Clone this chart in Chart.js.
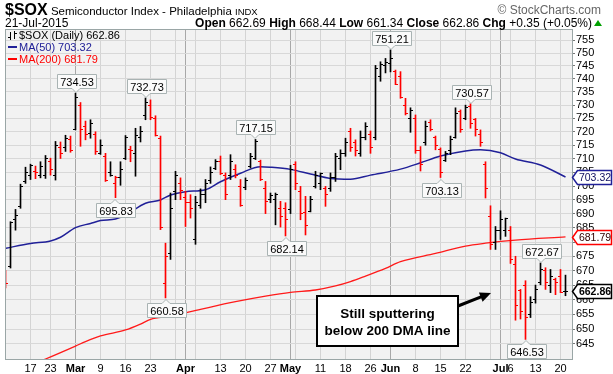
<!DOCTYPE html>
<html>
<head>
<meta charset="utf-8">
<title>$SOX Semiconductor Index</title>
<script src="https://cdn.jsdelivr.net/npm/chart.js@4.4.1/dist/chart.umd.min.js"></script>
<style>
  html, body { margin: 0; padding: 0; background: #fff; }
  #wrap { position: relative; width: 613px; height: 374px; overflow: hidden; font-family: "Liberation Sans", Arial, sans-serif; color: #000; }
  #chart { position: absolute; left: 0; top: 0; }
  .hd { position: absolute; white-space: nowrap; }
</style>
</head>
<body>
<div id="wrap">
  <canvas id="chart" width="613" height="374"></canvas>
  <div class="hd" style="left:5px;top:1px;font-size:11.5px;line-height:17px"><b style="font-size:16px">$SOX</b> Semiconductor Index - Philadelphia <span style="font-size:9.5px">INDX</span></div>
  <div class="hd" style="right:12px;top:4px;font-size:12px;line-height:12px;color:#666">&copy; StockCharts.com</div>
  <div class="hd" id="date" style="left:5px;top:17px;font-size:12px;line-height:12px"></div>
  <div class="hd" id="quote" style="right:21px;top:17px;font-size:12px;line-height:12px"></div>
  <div class="hd" style="right:11px;top:20px;width:0;height:0;border-left:4px solid transparent;border-right:4px solid transparent;border-bottom:6px solid #00a000"></div>
</div>
<script>
// trading days Feb 9 - Jul 21 2015
const holidays = ['2015-02-16', '2015-04-03', '2015-05-25', '2015-07-03'];
const dates = [];
for (let d = new Date(Date.UTC(2015, 1, 9)); d <= new Date(Date.UTC(2015, 6, 21)); d.setUTCDate(d.getUTCDate() + 1)) {
  const iso = d.toISOString().slice(0, 10);
  const wd = d.getUTCDay();
  if (wd !== 0 && wd !== 6 && !holidays.includes(iso)) dates.push(iso);
}

const opens = [668, 671.5, 688, 692.5, 701.5, 704, 705.5, 704, 704, 709,
  704, 714, 714, 717, 721, 730, 722, 719.5, 719, 712,
  711, 705, 701, 703, 710, 713.5, 712, 718, 726, 730,
  725, 717.5, 665.5, 676, 698, 701, 696, 694, 681, 693,
  697, 702, 706.5, 709, 704, 704, 706, 700, 699.5, 707,
  710, 709, 699, 695, 695, 692, 692, 691.5, 708, 698,
  690.5, 691, 700, 701, 699, 699, 703, 710, 712, 720,
  716, 712, 718, 719, 718, 741, 745, 746, 743, 741,
  730, 725, 725, 713, 716, 723.5, 718, 713.5, 709.5, 713,
  718, 727.5, 725, 729.5, 724.5, 719, 708, 689, 680, 684,
  684, 684, 672, 663, 665, 655, 660, 666, 670, 665,
  667, 668, 662.69];
const highs = [670, 687.2, 691.6, 700.7, 706.9, 708.0, 707.3, 708.9, 711.2, 710.2,
  716.4, 716.2, 718.7, 718.4, 734.53, 731, 724, 724.5, 720, 717,
  712, 708.9, 703.6, 708.9, 718.6, 714.6, 721.3, 722.0, 732.73, 732.0,
  726.0, 718.4, 679.6, 697.5, 705.4, 703.0, 698.1, 696.9, 696.3, 699,
  702.4, 707.0, 709.7, 711, 704.8, 711.5, 707.8, 702.4, 703.0, 712.0,
  717.15, 709.5, 701.7, 697.5, 697.5, 694.5, 694.0, 707.6, 708.9, 699.9,
  696.3, 696.3, 705.4, 704.8, 699.9, 704.8, 712.0, 713.3, 717.6, 721.3,
  717, 720.3, 723.4, 720.3, 745.2, 746.6, 747.9, 751.21, 743.4, 742.8,
  732.6, 729.0, 726.3, 714.5, 724, 724.5, 718.4, 714, 712.7, 718.4,
  729.0, 728.2, 730.0, 730.57, 725.0, 720.7, 708.9, 692.9, 685.5, 691.1,
  688.5, 685.5, 675, 663.5, 666.5, 661.0, 665.0, 672.67, 671.0, 670.4,
  667.4, 670.4, 668.44];
const lows = [664, 670.9, 684.2, 692.0, 701.0, 702.4, 702.7, 703.0, 702.8, 704.0,
  702.2, 710.1, 712.7, 712.4, 720.7, 714.6, 717, 717.6, 711.6, 711.6,
  701.7, 703.6, 695.83, 700.3, 709.7, 708.9, 703.6, 716.2, 724.5, 724.5,
  718.4, 684.4, 660.58, 673.9, 695.1, 695.1, 685.5, 688.5, 679.2, 692,
  694.0, 701.0, 706.0, 704.2, 695.1, 702.4, 703, 692.7, 698.7, 706.6,
  709.7, 702.0, 690.1, 694, 686.1, 685.3, 682.14, 690.1, 698.7, 687.9,
  682.5, 690.7, 699.3, 698.7, 692.7, 698.1, 701.7, 706.0, 710.9, 712.7,
  711, 710.9, 717.0, 712.0, 717.0, 739.1, 742.3, 742.7, 737.8, 732.6,
  726.3, 719.8, 712, 705.5, 715, 720.3, 713.3, 703.13, 709, 711.5,
  717.6, 719.8, 724.5, 721.3, 718.4, 714.6, 695.7, 677.4, 677.4, 680.9,
  682, 672.5, 653, 653.4, 646.53, 653.9, 658.8, 665.1, 663.5, 662.4,
  661.7, 662.4, 661.34];
const closes = [665.7, 687, 689.5, 700, 705, 707.5, 705, 707, 710, 706,
  715, 712, 717.5, 713, 733, 721, 719, 723, 712.5, 715,
  702, 704, 703, 706, 718, 713, 718.5, 720, 731, 725.5,
  718.5, 685, 675, 692, 704, 698.5, 694, 692, 694, 697,
  701, 705, 709, 704.5, 697, 709, 704, 693, 702, 711,
  716.5, 702.5, 694.5, 696.5, 697, 689, 688, 706, 701, 690,
  686, 695, 704, 704.5, 697, 703, 711, 712, 716, 714,
  713, 718, 722, 714, 744, 745.5, 746.5, 748, 738, 733,
  727, 728, 713, 708, 722, 721, 715, 705, 712, 717,
  727, 721, 729, 723, 721, 716, 699, 679, 684, 688,
  688.2, 674, 658, 656, 654, 659, 663.5, 670.5, 666, 668,
  666, 662.51, 662.86];

// moving averages read at a few days (trading-day index)
const ma50Days = [0, 5, 9, 11, 14, 17, 19, 22, 24, 28, 31, 33, 36, 40, 43, 47, 51, 53, 57, 61, 65, 69, 73, 79, 83, 87, 92, 95, 99, 102, 107, 112];
const ma50 = [677.8, 679.5, 680.4, 681.7, 685.1, 686.6, 687.6, 688.2, 689.6, 693.8, 695.0, 696.8, 698.0, 698.7, 701.6, 704.7, 707.1, 706.9, 706.1, 704.4, 702.8, 702.5, 704.0, 706.2, 708.5, 711.0, 712.9, 713.3, 712.2, 709.9, 707.7, 703.32];
const ma200Days = [0, 8, 14, 16, 19, 24, 27, 29, 33, 39, 46, 52, 57, 62, 66, 69, 72, 76, 79, 86, 92, 96, 102, 112];
const ma200 = [634.7, 640.0, 644.3, 645.8, 647.7, 649.7, 651.7, 653.3, 654.4, 656.7, 659.3, 661.2, 662.5, 663.3, 664.7, 666.2, 668.1, 670.8, 673.1, 676.0, 678.6, 679.6, 680.7, 681.79];

const yTicks = [645, 650, 655, 660, 665, 670, 675, 680, 685, 690, 695, 700, 705, 710, 715, 720, 725, 730, 735, 740, 745, 750, 755];
const gridDates = ['2015-02-17', '2015-02-23', '2015-03-02', '2015-03-09', '2015-03-16', '2015-03-23', '2015-03-30', '2015-04-01', '2015-04-06', '2015-04-13', '2015-04-20', '2015-04-27', '2015-05-01', '2015-05-04', '2015-05-11', '2015-05-18', '2015-05-26', '2015-06-01', '2015-06-08', '2015-06-15', '2015-06-22', '2015-06-29', '2015-07-01', '2015-07-06', '2015-07-13', '2015-07-20'];
const gridNames = ['17', '23', 'Mar', '9', '16', '23', '', 'Apr', '', '13', '20', '27', 'May', '', '11', '18', '26', 'Jun', '8', '15', '22', '', 'Jul', '6', '13', '20'];
const months = ['Mar', 'Apr', 'May', 'Jun', 'Jul'];

const noteDates = ['2015-03-02', '2015-03-12', '2015-03-20', '2015-03-26', '2015-04-22', '2015-04-30', '2015-06-01', '2015-06-15', '2015-06-23', '2015-07-09', '2015-07-14'];
const noteSide = ['high', 'low', 'high', 'low', 'high', 'low', 'high', 'low', 'high', 'low', 'high'];

const FONT = '"Liberation Sans", Arial, sans-serif';
const RED = '#ff0000', BLACK = '#000000', NAVY = '#202098';
const last = closes.length - 1;

// header text
const monNames = ['Jan', 'Feb', 'Mar', 'Apr', 'May', 'Jun', 'Jul', 'Aug', 'Sep', 'Oct', 'Nov', 'Dec'];
const lastDate = dates[last].split('-');
document.getElementById('date').textContent = lastDate[2] + '-' + monNames[+lastDate[1] - 1] + '-' + lastDate[0];
const chg = closes[last] - closes[last - 1];
document.getElementById('quote').innerHTML =
  '<b>Open</b> ' + opens[last].toFixed(2) + ' <b>High</b> ' + highs[last].toFixed(2) +
  ' <b>Low</b> ' + lows[last].toFixed(2) + ' <b>Close</b> ' + closes[last].toFixed(2) +
  ' <b>Chg</b> +' + chg.toFixed(2) + ' (+' + (chg / closes[last - 1] * 100).toFixed(2) + '%)';

function barColor(k) {
  const ref = k > 0 ? closes[k - 1] : opens[k];
  return closes[k] < ref ? RED : BLACK;
}
function tickMark(color, left) {
  const c = document.createElement('canvas');
  c.width = 5; c.height = 1;
  const g = c.getContext('2d');
  g.fillStyle = color;
  g.fillRect(left ? 0 : 3, 0, 2, 1);
  return c;
}
const openMarks = { [RED]: tickMark(RED, true), [BLACK]: tickMark(BLACK, true) };
const closeMarks = { [RED]: tickMark(RED, false), [BLACK]: tickMark(BLACK, false) };

const days = closes.map((_, k) => k);
const gridKs = gridDates.map(d => dates.indexOf(d));

function bubble(ctx, cx, tipY, text, above) {
  ctx.font = '11px ' + FONT;
  const w = Math.ceil(ctx.measureText(text).width) + 5, h = 14;
  const x0 = Math.round(cx - w / 2) + 0.5;
  let y0, y1;
  if (above) { y1 = Math.round(tipY - 5) + 0.5; y0 = y1 - h; }
  else { y0 = Math.round(tipY + 5) + 0.5; y1 = y0 + h; }
  ctx.beginPath();
  ctx.moveTo(x0, y0);
  if (!above) { ctx.lineTo(cx - 4, y0); ctx.lineTo(cx, y0 - 4); ctx.lineTo(cx + 4, y0); }
  ctx.lineTo(x0 + w, y0);
  ctx.lineTo(x0 + w, y1);
  if (above) { ctx.lineTo(cx + 4, y1); ctx.lineTo(cx, y1 + 4); ctx.lineTo(cx - 4, y1); }
  ctx.lineTo(x0, y1);
  ctx.closePath();
  ctx.fillStyle = '#fafafa'; ctx.fill();
  ctx.strokeStyle = '#a9b3b3'; ctx.lineWidth = 1; ctx.stroke();
  ctx.fillStyle = '#000'; ctx.textAlign = 'center'; ctx.textBaseline = 'middle';
  ctx.fillText(text, x0 + w / 2, (y0 + y1) / 2 + 1);
}

function tag(ctx, x, y, text, color, textColor, bold) {
  ctx.font = (bold ? 'bold ' : '') + '10.5px ' + FONT;
  const h = 14, tip = 5;
  y = Math.round(y) + 0.5;
  const x1 = 611.5;
  ctx.beginPath();
  ctx.moveTo(x, y);
  ctx.lineTo(x + tip, y - h / 2); ctx.lineTo(x1, y - h / 2);
  ctx.lineTo(x1, y + h / 2); ctx.lineTo(x + tip, y + h / 2);
  ctx.closePath();
  ctx.fillStyle = '#fff'; ctx.fill();
  ctx.strokeStyle = color; ctx.lineWidth = 1.5; ctx.stroke();
  ctx.fillStyle = textColor; ctx.textAlign = 'center'; ctx.textBaseline = 'middle';
  ctx.fillText(text, (x + tip + x1) / 2 + 0.5, y + 1);
}

const callout = { lines: ['Still sputtering', 'below 200 DMA line'], box: [317, 296, 458, 346], from: [458, 306], to: [491, 293] };

const decor = {
  id: 'decor',
  beforeDraw(chart) {
    const { ctx, chartArea: a } = chart;
    ctx.save();
    ctx.fillStyle = '#f2f2f2';
    ctx.fillRect(a.left, a.top, a.right - a.left, a.bottom - a.top);
    ctx.restore();
  },
  afterDatasetsDraw(chart) {
    const { ctx, chartArea: a } = chart;
    ctx.save();
    ctx.strokeStyle = '#9aa6a6'; ctx.lineWidth = 1;
    ctx.strokeRect(a.left - 0.5, a.top - 0.5, a.right - a.left + 1, a.bottom - a.top + 1);
    ctx.restore();
  },
  afterDraw(chart) {
    const { ctx, chartArea: a } = chart;
    const xs = chart.scales.x, ys = chart.scales.y;
    ctx.save();
    // legend inside plot
    ctx.font = '11px ' + FONT;
    ctx.textAlign = 'left'; ctx.textBaseline = 'alphabetic';
    ctx.fillStyle = '#000';
    ctx.fillRect(10, 32, 1, 8); ctx.fillRect(8, 37, 2, 1);
    ctx.fillRect(14, 31, 1, 8); ctx.fillRect(15, 33, 2, 1);
    ctx.fillText('$SOX (Daily) ' + closes[last].toFixed(2), 19, 39);
    ctx.fillStyle = NAVY; ctx.fillRect(8, 46, 9, 2);
    ctx.fillText('MA(50) ' + ma50[ma50.length - 1].toFixed(2), 19, 51);
    ctx.fillStyle = RED; ctx.fillRect(8, 58, 9, 2);
    ctx.fillText('MA(200) ' + ma200[ma200.length - 1].toFixed(2), 19, 63);

    // high / low notes
    noteDates.forEach((d, j) => {
      const k = dates.indexOf(d);
      const high = noteSide[j] === 'high';
      const v = high ? highs[k] : lows[k];
      bubble(ctx, Math.round(xs.getPixelForValue(k)), ys.getPixelForValue(v), v.toFixed(2), high);
    });

    // right-hand value tags
    tag(ctx, a.right + 0.5, ys.getPixelForValue(ma50[ma50.length - 1]), ma50[ma50.length - 1].toFixed(2), NAVY, '#101060', false);
    tag(ctx, a.right + 0.5, ys.getPixelForValue(ma200[ma200.length - 1]), ma200[ma200.length - 1].toFixed(2), RED, '#300000', false);
    tag(ctx, a.right + 0.5, ys.getPixelForValue(closes[last]), closes[last].toFixed(2), '#000', '#000', true);

    // callout
    const [bx0, by0, bx1, by1] = callout.box;
    ctx.fillStyle = '#fff';
    ctx.fillRect(bx0, by0, bx1 - bx0, by1 - by0);
    ctx.strokeStyle = '#000'; ctx.lineWidth = 2;
    ctx.strokeRect(bx0, by0, bx1 - bx0, by1 - by0);
    ctx.fillStyle = '#000';
    ctx.font = 'bold 13.5px ' + FONT;
    ctx.textAlign = 'center'; ctx.textBaseline = 'alphabetic';
    ctx.fillText(callout.lines[0], (bx0 + bx1) / 2, 318);
    ctx.fillText(callout.lines[1], (bx0 + bx1) / 2, 335);
    const [fx, fy] = callout.from, [tx, ty] = callout.to;
    const ang = Math.atan2(ty - fy, tx - fx);
    ctx.lineWidth = 3;
    ctx.beginPath();
    ctx.moveTo(fx, fy);
    ctx.lineTo(tx - 8 * Math.cos(ang), ty - 8 * Math.sin(ang));
    ctx.stroke();
    ctx.beginPath();
    ctx.moveTo(tx, ty);
    ctx.lineTo(tx - 11 * Math.cos(ang) + 5 * Math.sin(ang), ty - 11 * Math.sin(ang) - 5 * Math.cos(ang));
    ctx.lineTo(tx - 11 * Math.cos(ang) - 5 * Math.sin(ang), ty - 11 * Math.sin(ang) + 5 * Math.cos(ang));
    ctx.closePath();
    ctx.fill();
    ctx.restore();
  }
};

Chart.defaults.font.family = FONT;
Chart.defaults.font.size = 11;
Chart.defaults.color = '#000';

new Chart(document.getElementById('chart'), {
  type: 'bar',
  data: {
    datasets: [
      {
        type: 'scatter', order: 0, clip: 0,
        data: days.map(k => ({ x: k, y: closes[k] })),
        pointStyle: c => closeMarks[barColor(c.dataIndex)], pointRadius: 3
      },
      {
        type: 'scatter', order: 0, clip: 0,
        data: days.map(k => ({ x: k, y: opens[k] })),
        pointStyle: c => openMarks[barColor(c.dataIndex)], pointRadius: 3
      },
      {
        type: 'bar', order: 1, clip: 0,
        data: days.map(k => ({ x: k, y: [lows[k], highs[k]] })),
        backgroundColor: days.map(barColor),
        barThickness: 1, grouped: false, borderWidth: 0
      },
      {
        type: 'line', order: 2, clip: 0,
        data: ma50Days.map((k, j) => ({ x: k, y: ma50[j] })),
        borderColor: NAVY, borderWidth: 1.5, pointRadius: 0, cubicInterpolationMode: 'monotone'
      },
      {
        type: 'line', order: 3, clip: 0,
        data: ma200Days.map((k, j) => ({ x: k, y: ma200[j] })),
        borderColor: '#ff1a1a', borderWidth: 1.3, pointRadius: 0, cubicInterpolationMode: 'monotone'
      }
    ]
  },
  options: {
    responsive: false,
    animation: false,
    devicePixelRatio: 1,
    events: [],
    layout: { padding: { left: 6, top: 30, right: 0, bottom: 0 } },
    plugins: { legend: { display: false }, tooltip: { enabled: false } },
    scales: {
      x: {
        type: 'linear', min: 0.1, max: 113.3, bounds: 'data', offset: false,
        afterBuildTicks: s => { s.ticks = gridKs.map(k => ({ value: k })); },
        afterFit: s => { s.height = 15; },
        ticks: {
          autoSkip: false, maxRotation: 0, padding: 3,
          callback: (v, i) => gridNames[i],
          font: c => ({ size: 11, weight: months.includes(gridNames[c.index]) ? 'bold' : 'normal' })
        },
        grid: { offset: false, drawTicks: false, color: c => months.includes(gridNames[c.index]) ? '#a8a8a8' : '#d4d4d4' },
        border: { display: false }
      },
      y: {
        type: 'logarithmic', position: 'right', min: 640, max: 759, bounds: 'data',
        afterBuildTicks: s => { s.ticks = yTicks.map(v => ({ value: v })); },
        afterFit: s => { s.width = 41; },
        ticks: { autoSkip: false, padding: 1, callback: v => String(v) },
        grid: { color: '#d8d8d8', tickLength: 3, tickColor: '#777' },
        border: { display: false }
      }
    }
  },
  plugins: [decor]
});
</script>
</body>
</html>
